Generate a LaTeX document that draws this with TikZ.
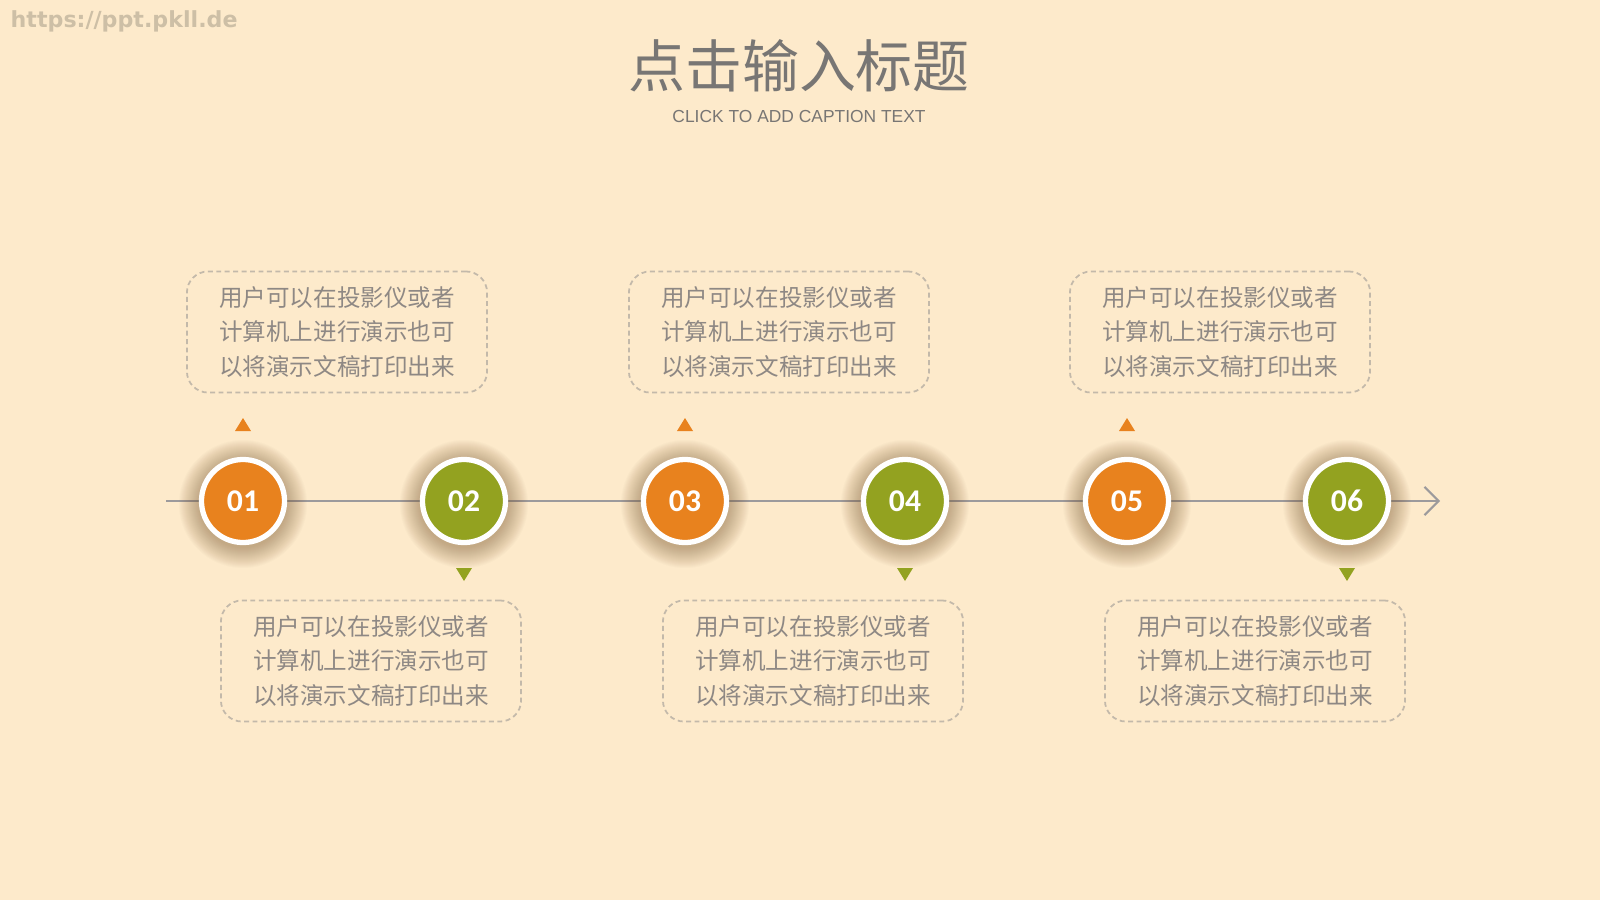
\documentclass[tikz,border=0pt]{standalone}
\usepackage{fontspec}
\setmainfont{Liberation Sans}
\newfontfamily\cjk{Noto Sans CJK SC}
\newfontfamily\numfont{Carlito}
\newfontfamily\wmfont{DejaVu Sans}
\usetikzlibrary{arrows.meta,calc}
\definecolor{bg}{HTML}{FDEACB}
\definecolor{org}{HTML}{E8821E}
\definecolor{grn}{HTML}{93A220}
\definecolor{txt}{HTML}{8E8884}
\definecolor{ttl}{HTML}{787674}
\definecolor{dashc}{HTML}{C3B9AA}
\definecolor{wm}{HTML}{CDBFA6}
\definecolor{shd}{HTML}{7A5A30}
\definecolor{linec}{HTML}{9C9A9C}
\tikzset{
  descbox/.style={draw=dashc, line width=0.5pt, dash pattern=on 1.4pt off 1pt,
    rounded corners=6pt, minimum width=3cm, minimum height=1.21cm, inner sep=0pt,
    align=center, text=txt, font=\cjk\fontsize{6.7}{9.7}\selectfont},
  numc/.style={circle, draw=white, line width=1.5pt, minimum size=0.83cm, inner sep=0pt,
    text=white, font=\numfont\bfseries\fontsize{9}{9}\selectfont},
  orgc/.style={numc, fill=org},
  grnc/.style={numc, fill=grn},
  tl/.style={draw=linec, line width=0.6pt},
}
\newcommand{\glow}[1]{%
  \foreach \r in {44,45,...,64}{\fill[shd, opacity=0.022] ($(#1)+(0,3)$) circle (\r);}}
\begin{document}
\begin{tikzpicture}[x=0.01cm,y=-0.01cm]
\fill[bg] (0,0) rectangle (1600,900);
\useasboundingbox (0,0) rectangle (1600,900);
% watermark
\node[anchor=west, text=wm, font=\wmfont\bfseries\fontsize{6.3}{6.3}\selectfont, inner sep=0] (wm) at (10,21) {https://ppt.pkll.de};
% title
\node[text=ttl, font=\cjk\fontsize{16.2}{18}\selectfont, inner sep=0] (title) at (799,66) {点击输入标题};
\node[text=ttl, font=\fontsize{4.95}{5}\selectfont, inner sep=0] (cap) at (799,117) {CLICK TO ADD CAPTION TEXT};
% timeline
\coordinate (s) at (166,501);
\coordinate (e) at (1440,501);
\draw[tl, -{Straight Barb[length=4pt,width=8pt,line width=0.6pt]}] (s) -- (e);
% glows
\foreach \x in {243,464,685,905,1127,1347}{\coordinate (g) at (\x,501); \glow{g}}
% circles
\node[orgc] (c1) at (243,501) {01};
\node[grnc] (c2) at (464,501) {02};
\node[orgc] (c3) at (685,501) {03};
\node[grnc] (c4) at (905,501) {04};
\node[orgc] (c5) at (1127,501) {05};
\node[grnc] (c6) at (1347,501) {06};
% triangles
\foreach \x in {243,685,1127}{\fill[org] (\x,418) -- (\x+8,431) -- (\x-8,431) -- cycle;}
\foreach \x in {464,905,1347}{\fill[grn] (\x,581) -- (\x+8,568) -- (\x-8,568) -- cycle;}
% boxes
\node[descbox] (b1) at (337,332) {用户可以在投影仪或者\\计算机上进行演示也可\\以将演示文稿打印出来};
\node[descbox] (b3) at (779,332) {用户可以在投影仪或者\\计算机上进行演示也可\\以将演示文稿打印出来};
\node[descbox] (b5) at (1220,332) {用户可以在投影仪或者\\计算机上进行演示也可\\以将演示文稿打印出来};
\node[descbox] (b2) at (371,661) {用户可以在投影仪或者\\计算机上进行演示也可\\以将演示文稿打印出来};
\node[descbox] (b4) at (813,661) {用户可以在投影仪或者\\计算机上进行演示也可\\以将演示文稿打印出来};
\node[descbox] (b6) at (1255,661) {用户可以在投影仪或者\\计算机上进行演示也可\\以将演示文稿打印出来};
\end{tikzpicture}
\end{document}
